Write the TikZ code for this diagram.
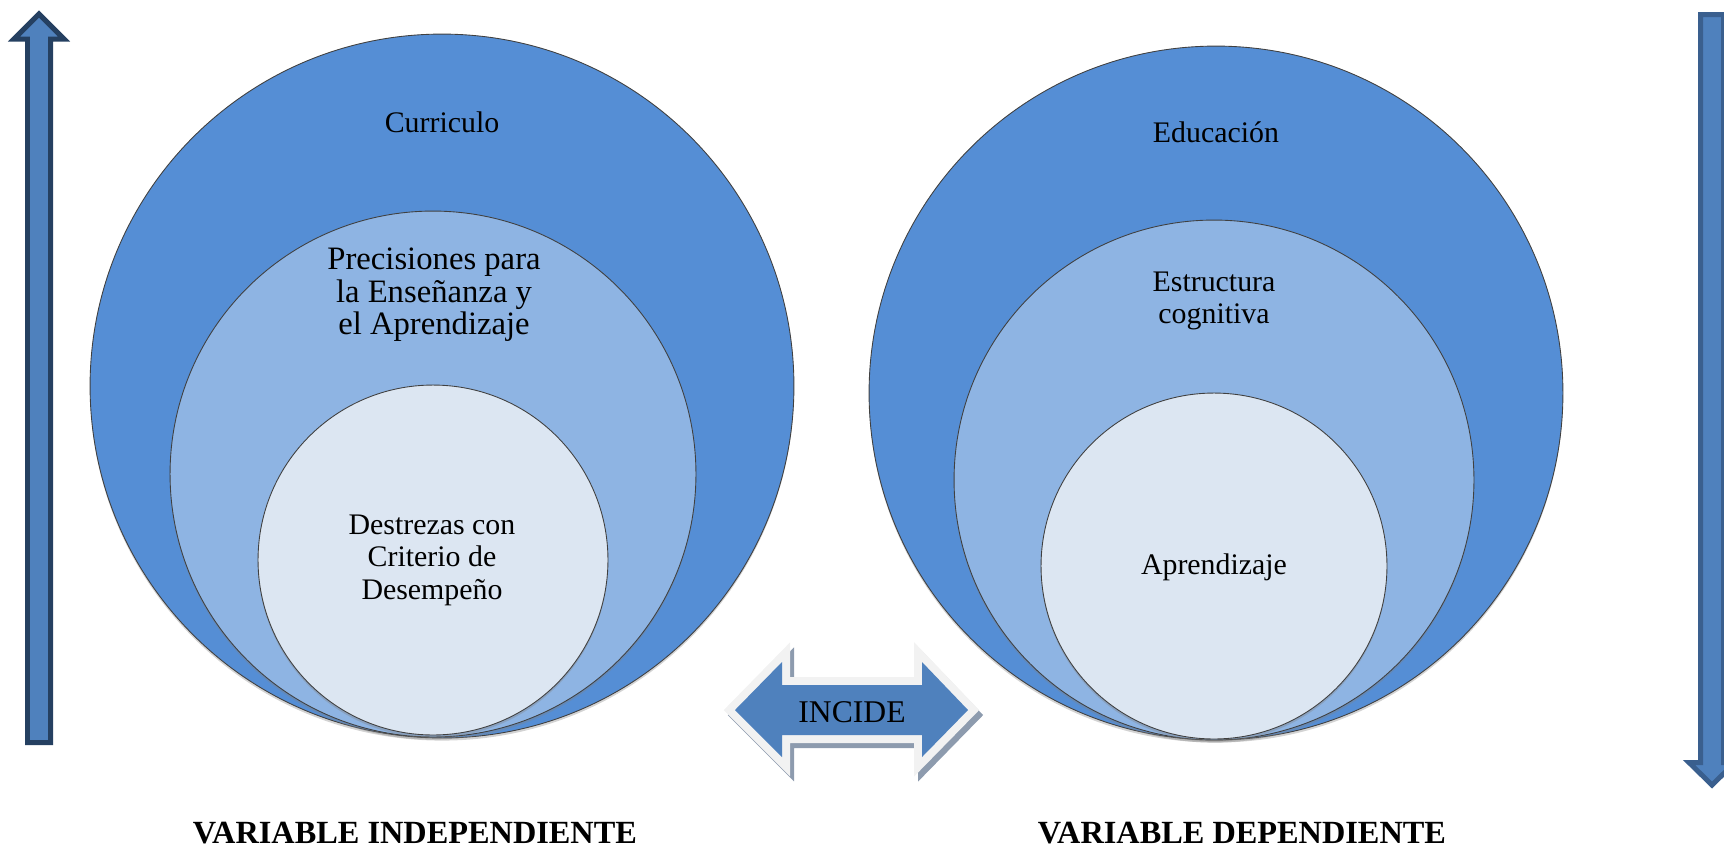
\documentclass[tikz,border=0pt]{standalone}
\usepackage{fontspec}
\setmainfont{Liberation Serif}
\usetikzlibrary{shadows}

\definecolor{ringdark}{HTML}{558ED5}
\definecolor{ringmid}{HTML}{8EB4E3}
\definecolor{ringlight}{HTML}{DCE6F2}
\definecolor{arrowblue}{HTML}{4F81BD}
\definecolor{arrownavy}{HTML}{254061}
\definecolor{arrowedge}{HTML}{3A5F8E}
\definecolor{incideedge}{HTML}{F2F2F2}
\definecolor{incideshade}{HTML}{8D9BAE}

\tikzset{
  disc/.style={circle, draw=black!75, line width=0.5pt, inner sep=0pt, outer sep=0pt,
    drop shadow={shadow xshift=0pt, shadow yshift=-1.5pt, opacity=0.35}},
  outerdisc/.style={disc, fill=ringdark},
  middisc/.style={disc, fill=ringmid},
  innerdisc/.style={disc, fill=ringlight},
  ringtext/.style={align=center, font=\fontsize{17}{18.5}\selectfont},
  vartext/.style={font=\fontsize{18.4}{20}\selectfont\bfseries},
  vbar/.style={fill=arrowblue, line width=0.1cm, line join=miter}
}

\begin{document}
\begin{tikzpicture}[x=0.02cm, y=-0.02cm]
  \useasboundingbox (0,0) rectangle (1724,850);

  % side arrows
  \draw[vbar, draw=arrownavy] (27.5,742.5) -- (27.5,39) -- (14,39) -- (39,14) -- (64,39) -- (50.5,39) -- (50.5,742.5) -- cycle;
  \draw[vbar, draw=arrowedge] (1700.5,14.5) -- (1700.5,762.5) -- (1689,762.5) -- (1712,785) -- (1735,762.5) -- (1723.5,762.5) -- (1723.5,14.5) -- cycle;

  % left circles
  \node[outerdisc, minimum size=14.08cm] (outerL) at (442,386) {};
  \node[middisc, minimum size=10.52cm] (midL) at (433,474) {};
  \node[innerdisc, minimum size=7cm] (innerL) at (433,560) {};

  % right circles
  \node[outerdisc, minimum size=13.88cm] (outerR) at (1216,393) {};
  \node[middisc, minimum size=10.4cm] (midR) at (1214,480) {};
  \node[innerdisc, minimum size=6.92cm] (innerR) at (1214,566) {};

  \node[ringtext] (curriculo) at (442,122) {Curriculo};
  \node[ringtext, font=\fontsize{18.6}{18.5}\selectfont] (precisiones) at (434,295) {Precisiones para\\la Enseñanza y\\el Aprendizaje};
  \node[ringtext] (destrezas) at (432,560) {Destrezas con\\Criterio de\\Desempeño};
  \node[ringtext] (educacion) at (1216,132) {Educación};
  \node[ringtext] (estructura) at (1214,301) {Estructura\\cognitiva};
  \node[ringtext] (aprendizaje) at (1214,567) {Aprendizaje};

  % incide arrow
  \path[fill=arrowblue,
    general shadow={draw=incideshade, fill=incideshade, line width=0.32cm, shadow xshift=0.08cm, shadow yshift=-0.1cm},
    preaction={draw=incideedge, line width=0.32cm}]
    (735,710) -- (782,662) -- (782,685) -- (922,685) -- (922,662) -- (968,710)
    -- (922,757) -- (922,735) -- (782,735) -- (782,757) -- cycle;
  \node[ringtext, font=\fontsize{18}{18.5}\selectfont] (incide) at (852,712) {INCIDE};

  \node[vartext] (varind) at (415,833) {VARIABLE INDEPENDIENTE};
  \node[vartext] (vardep) at (1242,833) {VARIABLE DEPENDIENTE};
\end{tikzpicture}
\end{document}
